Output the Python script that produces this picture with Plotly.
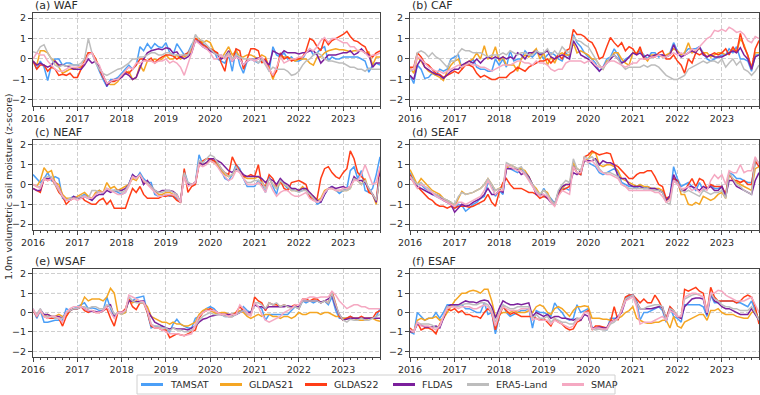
import pandas as pd
import plotly.graph_objects as go

# ---------------- data (monthly z-scores, Jan 2016 - Nov 2023) ----------------
dates = pd.date_range("2016-01-01", "2023-11-01", freq="MS")

products = ["TAMSAT", "GLDAS21", "GLDAS22", "FLDAS", "ERA5-Land", "SMAP"]
colors = ["#4b9ff7", "#f5a623", "#ff3d17", "#7b1f9c", "#bdbdbd", "#f5a9c2"]
panel_titles = ["(a) WAF", "(b) CAF", "(c) NEAF", "(d) SEAF", "(e) WSAF", "(f) ESAF"]
year_ticks = ["2016", "2017", "2018", "2019", "2020", "2021", "2022", "2023"]
y_ticks = [-2, -1, 0, 1, 2]
y_ticklabels = ["\u22122", "\u22121", "0", "1", "2"]

# ---- (a) WAF ----
WAF_TAMSAT = [-0.1, -0.5, -0.1, -0.4, -1.05, -0.3, 0.0, 0.0, -0.3, -0.2, -0.2, -0.3,
              -0.3, -0.4, -0.2, 0.3, 0.3, -0.2, -0.6, -1.0, -1.35, -1.0, -1.0, -0.9,
              -0.7, -0.5, -0.3, -0.5, -0.3, 0.6, 0.4, 0.75, 0.5, 0.75, 0.6, 0.55,
              0.8, 0.3, 0.2, 0.75, 0.5, 0.2, 0.3, 0.7, 0.95, 0.9, 0.75, 0.6,
              0.5, 0.4, 0.0, -0.1, -0.2, 0.2, -0.6, 0.5, -0.3, -0.7, -0.1, 0.0,
              -0.1, -0.2, 0.0, -0.1, -0.6, 0.6, 0.2, 0.1, 0.3, 0.0, 0.1, -0.1,
              -0.1, 0.0, 0.3, 0.5, 0.2, 0.3, 0.5, 0.6, -0.1, 0.1, 0.0, 0.0,
              0.1, 0.1, 0.1, 0.1, 0.1, 0.0, -0.1, -0.65, -0.3, -0.2, -0.3]
WAF_GLDAS21 = [-0.1, -0.3, 0.4, 0.4, 0.3, 0.0, -0.1, -0.4, -0.7, -0.6, -0.5, -0.5,
               -0.4, -0.4, -0.1, 0.3, 0.3, 0.0, -0.4, -0.8, -1.2, -1.25, -1.25, -1.1,
               -0.8, -0.7, -0.6, -1.0, -0.9, -0.3, -0.6, -0.1, -0.1, 0.0, -0.1, 0.0,
               0.2, 0.0, 0.0, 0.2, 0.0, 0.1, 0.2, 0.4, 1.0, 1.0, 0.8, 0.9,
               0.8, 0.4, 0.2, 0.0, 0.3, 0.6, 0.2, 0.4, 0.1, 0.1, 0.2, 0.2,
               0.1, 0.0, 0.2, 0.1, -0.4, -1.0, -0.5, 0.1, 0.1, 0.1, 0.0, -0.1,
               0.0, 0.0, 0.0, -0.2, -0.3, 0.1, 0.1, 0.3, 0.4, 0.45, 0.5, 0.45,
               0.45, 0.4, 0.35, 0.4, 0.4, 0.45, 0.3, 0.35, -0.3, 0.1, 0.1]
WAF_GLDAS22 = [-0.1, -0.5, -0.3, -0.3, -0.6, -0.4, -0.5, -0.8, -0.75, -0.8, -0.7, -0.9,
               -0.9, -0.5, -0.1, 0.3, 0.3, 0.0, -0.5, -0.9, -1.2, -1.1, -1.1, -1.0,
               -0.85, -0.6, -0.7, -0.5, -0.3, 0.0, 0.0, -0.1, 0.05, -0.2, 0.0, 0.1,
               0.2, 0.2, 0.15, 0.0, 0.1, 0.2, 0.3, 0.5, 1.0, 0.9, 0.7, 0.6,
               0.5, 0.4, 0.3, -0.2, -0.6, 0.4, -0.1, 0.5, 0.4, -0.5, 0.0, 0.5,
               0.5, 0.4, -0.2, 0.0, -0.5, -0.85, -0.6, 0.3, 0.0, 0.1, -0.1, 0.0,
               0.0, 0.1, 0.4, 1.0, 0.9, 0.6, 0.4, 1.0, 0.7, 0.9, 1.0, 1.1,
               1.2, 1.35, 1.1, 0.9, 0.85, 0.7, 0.6, 0.2, 0.1, 0.3, 0.4]
WAF_FLDAS = [-0.1, -0.3, -0.2, -0.3, -0.4, -0.3, -0.1, -0.3, -0.3, -0.35, -0.4, -0.5,
             -0.5, -0.5, -0.3, 0.0, -0.2, -0.1, -0.4, -0.8, -1.3, -1.1, -1.0, -1.0,
             -0.9, -0.7, -0.8, -1.0, -0.9, -0.4, 0.0, 0.3, 0.4, 0.45, 0.5, 0.45,
             0.55, 0.5, 0.3, 0.35, 0.1, 0.0, 0.1, 0.3, 0.9, 0.8, 0.6, 0.5,
             0.4, 0.3, 0.2, 0.0, 0.1, 0.4, -0.1, 0.1, 0.0, -0.3, -0.1, 0.0,
             0.0, 0.05, 0.0, -0.1, -0.3, 0.4, 0.3, 0.2, 0.4, 0.3, 0.3, 0.3,
             0.25, 0.3, 0.3, 0.4, 0.4, 0.2, -0.2, 0.0, 0.2, 0.2, 0.2, 0.25,
             0.3, 0.3, 0.4, 0.2, 0.3, 0.5, 0.3, 0.2, -0.4, -0.2, -0.2]
WAF_ERA5 = [0.35, 0.3, 0.6, 0.7, 0.3, 0.0, -0.3, -0.4, -0.3, -0.35, -0.3, -0.3,
            -0.3, -0.2, 0.0, 1.0, 0.3, -0.2, -0.5, -0.7, -0.8, -0.7, -0.6, -0.5,
            -0.45, -0.3, -0.2, 0.0, 0.0, 0.1, 0.1, 0.2, 0.3, 0.3, 0.2, 0.2,
            0.3, 0.3, 0.2, 0.2, 0.2, 0.2, 0.2, 0.6, 1.2, 0.95, 0.9, 0.7,
            0.5, 0.3, 0.2, 0.2, 0.1, 0.3, 0.0, 0.2, 0.1, 0.0, 0.0, 0.0,
            0.0, -0.2, 0.0, -0.3, -0.6, -0.4, -0.5, -0.5, -0.5, -0.6, -0.8, -0.75,
            -0.6, -0.3, -0.1, 0.0, 0.2, 0.3, 0.2, 0.0, -0.1, -0.1, -0.15, -0.2,
            -0.2, -0.3, -0.4, -0.4, -0.5, -0.5, -0.6, -0.45, -0.5, -0.5, -0.5]
WAF_SMAP = [0.0, 0.3, 0.2, 0.2, -0.1, -0.3, -0.5, -0.6, -0.6, -0.5, -0.4, -0.4,
            -0.4, -0.3, -0.2, 0.2, 0.3, -0.1, -0.3, -0.8, -1.2, -1.1, -1.0, -1.0,
            -0.8, -0.6, -0.4, -0.5, -0.2, -0.2, -0.1, -0.1, -0.1, -0.2, -0.1, -0.1,
            0.0, -0.2, -0.1, -0.2, -0.4, -0.8, -0.3, 0.3, 0.9, 0.75, 0.6, 0.5,
            0.3, 0.0, 0.0, 0.2, 0.0, 0.2, -0.1, 0.1, 0.0, -0.3, -0.1, 0.0,
            -0.1, 0.0, 0.1, -0.2, -0.5, -0.8, -0.4, 0.1, -0.2, -0.1, 0.0, 0.0,
            0.1, 0.1, 0.3, 0.5, 0.4, 0.6, 0.9, 1.05, 0.8, 1.0, 1.0, 0.9,
            0.8, 0.8, 0.6, 0.6, 0.4, 0.4, 0.3, 0.1, 0.2, 0.2, 0.3]

# ---- (b) CAF ----
CAF_TAMSAT = [-0.8, -1.2, -0.3, -0.5, -0.95, -0.9, -0.7, -0.8, -0.5, -0.6, -0.5, 0.0,
              0.1, 0.2, -0.5, -0.2, -0.3, 0.0, -0.4, -0.5, -0.5, -0.6, -0.6, 0.0,
              -0.3, 0.0, -0.4, 0.4, -0.1, 0.0, 0.0, 0.4, 0.2, 0.1, 0.3, 0.3,
              0.0, 0.2, 0.3, 0.2, 0.0, -0.1, 0.3, 0.1, 1.2, 0.8, 0.6, 0.3,
              0.1, 0.0, -0.2, -0.6, -0.4, 0.0, 0.1, 0.5, 0.2, -0.2, 0.0, 0.1,
              0.3, 0.3, 0.4, 0.2, 0.0, 0.3, 0.3, 0.1, 0.2, 0.1, 0.3, 0.8,
              0.4, 0.2, 0.3, 0.5, 0.5, 0.5, 0.6, 0.3, 0.0, -0.1, 0.0, 0.1,
              0.2, 0.2, 0.5, 0.3, 0.6, 0.0, 0.0, -0.1, -0.6, 0.2, 0.2]
CAF_GLDAS21 = [-0.4, -0.7, 0.1, -0.1, -0.4, -0.6, -0.7, -0.8, -0.9, -1.05, -0.6, -0.3,
               -0.1, 0.0, -0.5, -0.2, -0.1, 0.0, 0.3, 0.0, 0.65, 0.0, 0.1, 0.6,
               -0.1, 0.1, -0.3, -0.3, -0.3, -0.6, 0.0, 0.2, 0.1, 0.3, 0.5, 0.0,
               0.3, -0.3, 0.1, -0.2, 0.2, 0.3, 0.2, 0.2, 0.8, 0.3, 0.4, 0.3,
               0.2, 0.0, 0.0, -0.3, -0.5, -0.1, 0.0, 0.3, 0.3, 0.0, -0.2, -0.3,
               0.3, 0.3, 0.5, 0.1, -0.1, 0.2, 0.2, 0.2, 0.1, 0.2, 0.3, 0.5,
               0.4, 0.2, 0.3, 0.8, 0.3, 0.4, 0.5, 0.3, 0.3, 0.1, 0.2, 0.3,
               0.3, 0.2, 0.3, 0.5, 0.3, 1.0, 0.7, 0.2, -0.4, 0.3, 0.3]
CAF_GLDAS22 = [-0.4, -0.4, 0.3, 0.1, -0.2, -0.3, -0.5, -0.7, -0.75, -0.9, -0.8, -0.7,
               -0.6, -0.7, -0.5, -0.3, -0.3, -0.4, -0.7, -0.9, -0.8, -0.9, -1.0, -1.0,
               -0.9, -0.9, -0.9, -0.7, -0.6, -0.4, -0.5, -0.6, -0.4, -0.3, -0.2, -0.1,
               -0.1, 0.0, -0.2, 0.0, 0.2, 0.0, 0.4, 0.5, 1.45, 1.2, 1.2, 1.1,
               0.9, 0.8, 0.5, 0.0, 0.1, 0.6, 1.05, 0.8, 0.6, 0.8, 0.4, 0.6,
               0.5, 0.2, 0.6, 0.0, 0.0, 0.1, 0.1, 0.3, 0.4, 0.0, 0.0, 0.2,
               -0.1, -0.3, -0.7, 0.0, -0.2, 0.3, 0.2, 0.3, 0.1, 0.2, 0.3, 0.2,
               0.3, 0.5, 0.2, 0.6, 0.3, 1.25, 0.6, 0.2, -0.5, 0.5, 0.9]
CAF_FLDAS = [-0.8, -1.0, -0.3, 0.0, -0.4, -0.55, -0.65, -0.75, -0.8, -0.95, -0.75, -0.6,
             -0.5, -0.5, -0.3, -0.2, -0.1, -0.2, 0.0, -0.2, 0.0, 0.1, 0.0, 0.1,
             0.0, 0.1, 0.0, 0.1, 0.0, 0.3, 0.2, 0.0, 0.3, 0.3, 0.4, 0.2,
             0.3, 0.4, 0.1, 0.0, 0.1, 0.2, 0.1, 0.0, 0.9, 0.6, 0.2, 0.1,
             0.0, -0.2, -0.4, -0.6, -0.4, -0.2, 0.0, 0.2, 0.0, -0.2, -0.1, 0.1,
             0.3, 0.2, 0.3, 0.1, 0.2, 0.1, 0.2, 0.2, 0.2, 0.1, 0.2, 0.7,
             0.3, 0.1, 0.2, 0.3, 0.4, 0.3, 0.6, 0.2, 0.1, 0.2, 0.1, 0.1,
             0.1, 0.2, 0.3, 0.4, 0.3, 0.55, 0.2, 0.0, -0.5, 0.1, 0.2]
CAF_ERA5 = [-0.6, -0.5, 0.3, 0.4, 0.3, 0.1, 0.3, 0.1, 0.0, -0.2, -0.4, -0.1,
            -0.1, 0.3, 0.5, 0.4, 0.4, 0.3, 0.3, 0.3, 0.2, 0.1, 0.2, 0.2,
            0.2, 0.3, 0.2, 0.4, 0.3, 0.2, 0.3, 0.3, 0.2, 0.2, 0.4, 0.3,
            0.3, 0.5, 0.2, 0.4, 0.2, 0.6, 0.4, 0.3, 1.1, 0.9, 0.85, 0.7,
            0.6, 0.3, 0.0, -0.3, -0.5, -0.2, 0.1, 0.2, 0.0, -0.3, -0.5, -0.4,
            -0.4, -0.4, -0.4, -0.3, -0.4, -0.3, -0.3, -0.4, -0.6, -0.8, -0.9, -1.0,
            -1.0, -0.9, -0.8, -0.5, -0.4, -0.3, -0.2, -0.1, -0.2, -0.1, -0.1, -0.2,
            0.0, -0.4, -0.2, 0.0, -0.3, -0.1, -0.5, -0.6, -0.8, -0.6, -0.3]
CAF_SMAP = [-0.5, -0.5, 0.1, 0.0, -0.2, -0.4, -0.5, -0.6, -0.6, -0.7, -0.6, -0.5,
            -0.4, -0.3, -0.4, -0.3, -0.2, -0.3, -0.3, -0.4, -0.4, -0.5, -0.6, -0.5,
            -0.4, -0.3, -0.3, -0.3, -0.2, -0.1, -0.1, -0.2, -0.2, -0.3, -0.1, -0.2,
            -0.2, -0.3, -0.5, -0.6, -0.5, -0.5, -0.2, -0.1, -0.1, -0.1, -0.1, -0.2,
            -0.1, -0.1, -0.3, -0.4, -0.4, -0.2, -0.1, -0.1, -0.2, -0.3, -0.4, -0.3,
            -0.2, -0.2, 0.0, 0.0, 0.0, 0.1, 0.1, 0.2, 0.1, 0.1, 0.2, 0.3,
            0.2, 0.3, 0.2, 0.3, 0.5, 0.4, 0.6, 0.8, 1.0, 1.1, 1.4, 1.35,
            1.45, 1.35, 1.55, 1.45, 1.3, 1.35, 1.2, 0.9, 0.8, 1.1, 1.0]

# ---- (c) NEAF ----
NEAF_TAMSAT = [0.5, 0.3, 0.1, 0.3, 0.6, 0.2, 0.4, 0.3, -0.7, -0.8, -0.7, -0.6,
               -0.7, -0.6, -0.5, -0.6, -0.8, -0.5, -0.3, -0.5, -0.2, -0.3, -0.3, -0.4,
               -0.5, -0.4, 0.0, 0.5, 0.3, 0.6, 0.3, 0.1, 0.1, -0.5, -0.6, -0.6,
               -0.5, -0.6, -0.6, -0.7, -0.9, 0.7, 0.1, 0.0, 0.1, 1.5, 1.0, 1.1,
               1.3, 1.2, 1.0, 0.7, 0.3, 0.2, 0.5, 1.0, 0.8, 0.3, -0.1, -0.1,
               -0.1, 0.2, 0.0, -0.4, 0.4, -0.1, -0.5, 0.3, 0.0, -0.2, -0.2, -0.3,
               -0.35, -0.3, -0.2, -0.6, -0.6, -1.0, -0.9, -0.5, -0.2, -0.1, -0.3, -0.45,
               -0.3, -0.2, 0.7, 0.9, 0.3, 0.7, -0.3, -0.4, -0.2, 0.5, 1.4]
NEAF_GLDAS21 = [0.0, -0.1, 0.2, 0.85, 0.6, 0.7, 0.1, 0.0, -0.5, -0.7, -0.7, -0.7,
                -0.6, -0.5, -0.4, -0.6, -0.7, -0.4, -0.3, -0.4, 0.1, -0.2, -0.1, -0.3,
                -0.2, -0.1, 0.0, 0.3, 0.2, 0.5, 0.1, 0.1, -0.1, -0.3, -0.5, -0.5,
                -0.4, -0.4, -0.5, -0.6, -0.9, 0.5, 0.0, 0.0, 0.1, 1.1, 1.0, 1.1,
                1.2, 1.1, 1.0, 0.7, 0.5, 0.4, 0.5, 0.8, 0.7, 0.4, 0.3, 0.3,
                0.3, 0.4, 0.2, -0.2, 0.3, 0.0, -0.2, 0.1, 0.0, -0.1, -0.3, -0.3,
                -0.3, -0.1, -0.3, -0.5, -0.6, -0.8, -0.7, -0.3, -0.2, -0.2, -0.3, -0.3,
                -0.3, -0.3, -0.2, 0.3, 0.2, 0.0, 0.3, -0.3, -0.5, -1.0, 0.6]
NEAF_GLDAS22 = [-0.2, -0.3, -0.4, 0.3, 0.2, 0.3, 0.0, -0.4, -0.6, -1.0, -0.8, -0.7,
                -0.7, -0.6, -0.8, -0.9, -1.0, -1.0, -0.8, -0.7, -1.0, -0.8, -1.2, -1.2,
                -1.2, -1.2, -0.7, -0.2, -0.4, -0.1, -0.5, -0.7, -0.7, -0.7, -0.7, -0.6,
                -0.6, -0.55, -0.6, -0.8, -0.9, 0.8, -0.4, -0.1, 0.0, 1.0, 1.2, 1.3,
                1.3, 1.2, 1.1, 0.8, 0.6, 0.5, 1.4, 1.0, 0.7, 0.4, 0.4, 0.5,
                0.4, 1.0, 0.0, -0.1, 0.5, 0.3, -0.1, 0.2, -0.2, -0.3, 0.1, 0.15,
                0.2, 0.1, 0.0, -0.6, -0.8, -0.7, 0.3, 0.8, 0.9, 0.6, 0.4, 0.3,
                0.6, 0.8, 1.7, 1.3, 0.6, 0.4, 0.2, -0.4, -0.5, -0.8, 0.9]
NEAF_FLDAS = [-0.2, -0.3, -0.3, 0.3, 0.3, 0.3, 0.1, -0.2, -0.6, -0.8, -0.8, -0.6,
              -0.7, -0.7, -0.6, -0.7, -0.8, -0.6, -0.5, -0.5, -0.3, -0.4, -0.3, -0.3,
              -0.3, -0.2, 0.0, 0.5, 0.35, 0.5, 0.0, 0.2, -0.1, -0.3, -0.4, -0.3,
              -0.3, -0.3, -0.35, -0.5, -0.9, 0.5, 0.0, 0.0, 0.1, 1.1, 1.0, 1.1,
              1.3, 1.3, 1.2, 1.1, 0.9, 0.7, 0.6, 0.8, 0.7, 0.5, 0.4, 0.4,
              0.4, 0.4, 0.3, 0.1, 0.3, 0.2, 0.0, 0.3, 0.1, 0.0, -0.2, -0.2,
              -0.3, -0.2, -0.2, -0.4, -0.6, -0.8, -0.9, -0.5, -0.2, -0.1, -0.2, -0.15,
              -0.1, -0.2, -0.1, 0.4, 0.2, 0.2, 0.1, -0.2, -0.5, -0.9, 0.6]
NEAF_ERA5 = [0.0, -0.1, -0.1, 0.3, 0.4, 0.4, 0.0, -0.3, -0.6, -0.8, -0.7, -0.7,
             -0.7, -0.6, -0.6, -0.7, -0.3, -0.3, -0.4, -0.4, -0.2, -0.3, -0.3, -0.3,
             -0.4, -0.3, 0.0, 0.4, 0.3, 0.5, 0.2, 0.1, -0.1, -0.3, -0.4, -0.4,
             -0.3, -0.3, -0.4, -0.5, -0.9, 0.6, 0.1, 0.0, 0.1, 1.2, 1.1, 1.3,
             1.5, 1.4, 1.1, 0.8, 0.6, 0.4, 0.5, 0.9, 0.6, 0.3, 0.1, 0.1,
             0.2, 0.2, 0.1, -0.2, 0.3, 0.0, -0.2, 0.2, 0.0, -0.1, -0.3, -0.3,
             -0.4, -0.3, -0.3, -0.5, -0.7, -0.9, -0.8, -0.4, -0.2, -0.2, -0.3, -0.3,
             -0.3, -0.3, -0.2, 0.3, 0.2, 0.0, 0.2, -0.2, -0.5, -0.8, 0.4]
NEAF_SMAP = [0.0, -0.1, -0.2, 0.3, 0.2, 0.3, 0.1, -0.2, -0.6, -0.8, -0.8, -0.7,
             -0.8, -0.7, -0.6, -0.7, -0.7, -0.5, -0.4, -0.4, -0.2, -0.3, -0.4, -0.5,
             -0.5, -0.4, -0.1, 0.4, 0.3, 0.5, 0.2, 0.0, -0.2, -0.4, -0.6, -0.6,
             -0.5, -0.5, -0.5, -0.6, -0.9, 0.4, -0.1, 0.0, 0.1, 1.0, 0.9, 1.0,
             1.2, 1.1, 0.9, 0.6, 0.4, 0.2, 0.3, 0.7, 0.6, 0.3, 0.0, 0.0,
             0.0, 0.1, -0.1, -0.4, 0.1, -0.3, -0.6, -0.4, -0.3, -0.3, -0.5, -0.6,
             -0.6, -0.5, -0.4, -0.7, -0.8, -0.9, -0.8, -0.4, -0.2, -0.2, -0.3, -0.3,
             -0.2, -0.2, -0.1, 0.2, 0.2, 0.5, 1.0, 0.5, 0.0, 0.1, 0.9]

# ---- (d) SEAF ----
SEAF_TAMSAT = [0.6, 0.2, 0.0, 0.0, -0.2, -0.3, -0.5, -0.6, -0.7, -0.8, -0.8, -0.9,
               -1.2, -1.0, -1.05, -1.35, -1.2, -1.0, -0.9, -0.7, -0.6, 0.1, 0.0, -0.6,
               -0.3, -0.5, 0.9, 0.8, 0.7, 0.6, 0.8, 0.5, 0.3, 0.0, -0.3, -0.6,
               -0.2, -0.5, -0.7, -0.95, -0.5, -0.2, -0.2, -0.3, 1.0, 0.6, 0.5, 1.3,
               1.1, 1.0, 0.9, 0.6, 0.5, 0.6, 0.7, 0.8, 0.6, 0.1, 0.0, -0.1,
               -0.1, -0.2, 0.0, -0.2, -0.1, -0.2, -0.2, -0.3, -0.4, -0.7, -0.6, 0.9,
               0.3, -0.1, 0.0, 0.1, -0.1, -0.3, 0.1, -0.3, -0.2, 0.0, -0.2, -0.2,
               -0.1, -0.6, 0.6, 0.5, 0.3, 0.3, 0.2, 0.1, 0.1, 1.1, 1.0]
SEAF_GLDAS21 = [0.75, 0.4, 0.0, 0.3, 0.1, -0.1, -0.3, -0.4, -0.5, -0.7, -0.8, -0.9,
                -1.1, -0.7, -0.35, -0.5, -0.45, -0.4, -0.3, -0.2, 0.0, 0.3, 0.0, -0.3,
                -0.2, -0.1, 0.8, 1.0, 0.9, 0.8, 0.8, 0.7, 0.4, 0.0, -0.2, -0.5,
                -0.3, -0.4, -0.8, -1.0, -0.4, -0.2, 0.0, 0.0, 1.1, 0.8, 0.7, 1.2,
                1.3, 1.6, 1.6, 1.0, 0.9, 1.0, 1.0, 0.9, 0.7, 0.3, 0.2, 0.1,
                0.0, -0.1, 0.0, -0.1, -0.1, -0.2, -0.2, -0.2, -0.3, -0.8, -0.7, 0.3,
                0.2, -0.5, -0.5, -1.0, -1.05, -0.9, -1.0, -0.6, -0.7, -0.8, -0.7, -0.5,
                -0.4, -0.7, 0.5, 0.3, 0.1, 0.0, -0.1, -0.2, -0.3, 0.8, 0.9]
SEAF_GLDAS22 = [0.5, 0.1, -0.1, -0.3, -0.5, -0.7, -0.8, -1.0, -1.1, -1.1, -1.2, -1.1,
                -1.2, -1.1, -1.1, -1.1, -1.15, -1.1, -1.0, -0.9, -0.8, -0.5, -0.9, -1.1,
                -0.4, 0.1, 0.3, 0.0, -0.2, -0.2, -0.2, -0.3, -0.4, -0.4, -0.5, -0.7,
                -0.6, -0.7, -0.8, -1.05, -0.5, -0.3, -0.2, -0.1, 0.9, 0.6, 0.5, 1.4,
                1.5, 1.7, 1.6, 1.5, 1.55, 1.6, 1.55, 1.0, 0.9, 0.7, 0.5, 0.3,
                0.3, 0.5, 0.6, 0.6, 0.7, 0.7, 0.4, 0.0, -0.1, -0.7, -0.6, 0.3,
                0.2, -0.3, -0.3, 0.0, 0.3, -0.1, 0.3, 0.2, -0.2, 0.0, -0.1, -0.1,
                -0.1, -0.5, 0.6, 0.2, 0.2, 0.1, 0.2, 0.0, 0.0, 1.2, 0.9]
SEAF_FLDAS = [0.3, 0.2, -0.1, -0.2, -0.3, -0.4, -0.5, -0.5, -0.6, -0.8, -0.9, -1.0,
              -1.4, -1.2, -1.0, -1.1, -1.05, -0.9, -0.8, -0.7, -0.5, -0.2, -0.5, -0.5,
              -0.3, -0.4, 0.8, 0.8, 0.8, 0.75, 0.5, 0.6, 0.4, 0.0, -0.5, -0.5,
              -0.5, -0.7, -0.9, -1.0, -0.4, -0.1, 0.0, 0.0, 0.6, 0.5, 0.7, 1.2,
              1.2, 1.2, 1.3, 1.0, 1.2, 1.1, 1.1, 1.0, 0.4, 0.3, 0.3, 0.0,
              -0.1, -0.1, -0.1, -0.2, -0.2, -0.2, -0.2, -0.3, -0.4, -0.8, -0.6, 0.5,
              0.1, -0.3, -0.3, -0.1, -0.1, -0.2, -0.3, -0.1, -0.2, -0.1, -0.3, -0.3,
              -0.1, -0.6, 0.2, 0.2, -0.1, -0.2, -0.3, -0.4, -0.5, 0.2, 0.6]
SEAF_ERA5 = [0.4, 0.2, 0.0, 0.1, -0.1, -0.2, -0.4, -0.5, -0.6, -0.7, -0.8, -0.9,
             -1.0, -0.6, -0.4, -0.5, -0.45, -0.4, -0.3, -0.2, 0.0, 0.3, 0.0, -0.3,
             -0.2, -0.2, 1.1, 1.0, 0.9, 0.8, 0.9, 0.6, 0.3, 0.0, -0.3, -0.5,
             -0.3, -0.5, -0.8, -1.0, -0.3, 0.0, 0.2, 0.1, 1.3, 0.8, 0.7, 1.4,
             1.3, 1.4, 1.2, 0.8, 0.6, 0.6, 0.6, 0.5, 0.4, 0.0, -0.1, -0.2,
             -0.2, -0.2, -0.2, -0.2, -0.2, -0.3, -0.3, -0.3, -0.4, -0.9, -1.0, 0.2,
             0.1, -0.3, -0.4, -0.3, -0.4, -0.5, -0.6, -0.3, -0.4, -0.5, -0.4, -0.4,
             -0.3, -0.7, 0.6, 0.3, 0.0, -0.1, -0.3, -0.4, -0.5, 1.3, 1.1]
SEAF_SMAP = [0.4, 0.1, -0.2, 0.0, -0.1, -0.3, -0.4, -0.6, -0.7, -0.8, -0.9, -1.0,
             -1.1, -0.9, -0.9, -1.0, -0.9, -0.8, -0.7, -0.6, -0.3, 0.2, -0.2, -0.5,
             -0.3, -0.3, 1.0, 0.9, 0.8, 0.7, 0.7, 0.5, 0.2, -0.1, -0.4, -0.6,
             -0.5, -0.6, -0.9, -1.1, -0.6, -0.3, -0.4, -0.5, 0.9, 0.6, 0.6, 1.3,
             1.1, 1.2, 1.0, 0.7, 0.6, 0.5, 0.5, 0.4, 0.3, 0.0, -0.1, -0.3,
             -0.3, -0.3, -0.3, -0.3, -0.3, -0.3, -0.4, -0.4, -0.6, -0.9, -0.8, 0.2,
             0.0, -0.2, -0.2, -0.1, -0.3, -0.2, -0.4, -0.2, -0.3, 0.2, 0.5, 0.3,
             0.5, 0.0, 0.7, 0.6, 0.6, 1.0, 0.6, 0.7, 0.7, 1.4, 1.0]

# ---- (e) WSAF ----
WSAF_TAMSAT = [0.2, -0.3, 0.1, -0.5, -0.5, -0.45, -0.4, -0.4, -0.4, 0.2, 0.1, 0.2,
               0.3, 0.4, 0.5, 0.2, 0.25, 0.2, 0.1, 0.1, 0.8, 0.2, -0.2, 0.0,
               0.0, 0.0, 0.8, 0.6, 0.75, 0.8, 0.85, 0.0, -0.8, -0.7, -0.75, -0.7,
               -0.8, -1.0, -0.6, -0.35, -0.6, -0.7, -0.8, -0.8, -0.3, -0.2, 0.0, 0.2,
               0.3, 0.2, 0.0, -0.1, -0.2, -0.2, -0.2, -0.1, 0.0, 0.3, 0.1, 0.0,
               0.5, 0.3, 0.2, -0.4, -0.1, -0.1, -0.1, -0.1, -0.1, -0.1, 0.1, 0.3,
               0.2, 0.6, 0.5, 0.6, 0.5, 0.6, 0.5, 0.6, 0.4, 0.8, 0.1, -0.3,
               -0.3, -0.3, -0.2, -0.3, -0.3, -0.3, -0.3, -0.3, -0.3, -0.2, 0.2]
WSAF_GLDAS21 = [0.1, -0.1, 0.1, -0.2, -0.1, -0.2, -0.2, -0.1, -0.2, -0.2, 0.1, 0.2,
                0.2, 0.4, 0.8, 0.6, 0.7, 0.7, 0.7, 0.6, 0.8, 1.25, 1.0, 0.0,
                -0.1, 0.0, 0.7, 0.5, 0.6, 0.5, 0.5, 0.3, -0.2, -0.3, -0.4, -0.5,
                -0.5, -0.6, -0.5, -0.6, -0.6, -0.7, -0.7, -0.6, -0.5, -0.1, 0.1, 0.2,
                0.1, 0.0, -0.1, 0.0, 0.0, -0.1, -0.1, 0.0, 0.1, 0.0, -0.2, -0.3,
                -0.2, -0.1, -0.2, -0.1, -0.1, -0.2, -0.2, -0.3, -0.2, -0.2, -0.3, -0.2,
                0.0, -0.1, -0.1, 0.0, 0.0, 0.0, -0.1, 0.0, 0.0, -0.1, -0.2, -0.2,
                -0.3, -0.3, -0.3, -0.3, -0.4, -0.4, -0.4, -0.3, -0.3, -0.4, -0.45]
WSAF_GLDAS22 = [0.1, -0.2, 0.1, -0.2, -0.3, -0.3, -0.3, -0.3, -0.7, -0.2, 0.1, 0.2,
                0.2, 0.3, 0.1, 0.0, 0.1, 0.0, 0.0, 0.1, 0.2, -0.3, -0.7, 0.0,
                0.0, 0.2, 0.7, 0.3, 0.15, 0.5, 0.5, 0.0, -0.7, -0.8, -0.8, -0.9,
                -0.9, -1.3, -1.2, -1.1, -1.15, -1.2, -1.1, -1.0, -0.9, -0.3, 0.0, 0.1,
                0.2, 0.1, 0.0, -0.1, -0.1, -0.2, -0.2, 0.0, 0.3, 0.1, -0.1, -0.1,
                0.8, 0.6, 0.5, 0.1, 0.5, 0.4, 0.4, 0.3, 0.4, 0.3, 0.3, 0.4,
                0.2, 0.7, 0.7, 0.6, 0.7, 0.7, 0.5, 0.6, 0.5, 1.1, 0.4, -0.2,
                -0.4, -0.3, -0.2, -0.3, -0.3, -0.2, -0.3, -0.3, -0.3, 0.0, 0.1]
WSAF_FLDAS = [0.1, -0.1, 0.15, -0.1, -0.1, -0.2, -0.2, -0.2, -0.3, 0.0, 0.1, 0.2,
              0.2, 0.3, 0.2, 0.1, 0.05, 0.05, 0.0, 0.1, 0.3, 0.4, -0.2, 0.0,
              0.0, 0.1, 0.6, 0.6, 0.55, 0.6, 0.6, 0.1, -0.2, -0.5, -0.6, -0.7,
              -0.8, -0.85, -0.8, -0.85, -0.85, -0.85, -0.9, -0.8, -0.7, -0.5, -0.35, -0.3,
              -0.2, -0.15, -0.1, -0.1, -0.1, -0.1, -0.1, -0.1, 0.0, 0.1, 0.0, 0.0,
              0.4, 0.3, 0.3, 0.2, 0.3, 0.3, 0.3, 0.3, 0.3, 0.35, 0.3, 0.3,
              0.3, 0.6, 0.6, 0.6, 0.6, 0.6, 0.55, 0.6, 0.7, 0.9, 0.3, -0.1,
              -0.4, -0.35, -0.3, -0.3, -0.3, -0.3, -0.3, -0.3, -0.3, -0.3, -0.3]
WSAF_ERA5 = [0.1, -0.1, 0.2, -0.2, -0.2, -0.2, -0.3, -0.3, -0.3, 0.0, 0.1, 0.2,
             0.2, 0.3, 0.3, 0.2, 0.3, 0.3, 0.2, 0.2, 0.4, 0.3, -0.1, 0.0,
             -0.1, 0.1, 0.8, 0.6, 0.5, 0.5, 0.5, 0.1, -0.6, -0.7, -0.7, -0.8,
             -0.8, -0.95, -0.8, -0.9, -0.9, -1.0, -1.0, -0.9, -0.7, -0.4, -0.2, -0.1,
             0.0, -0.1, -0.1, -0.1, -0.2, -0.2, -0.2, -0.1, 0.0, 0.1, -0.1, -0.1,
             0.5, 0.5, 0.4, 0.2, 0.5, 0.4, 0.5, 0.3, 0.4, 0.3, 0.2, 0.3,
             0.2, 0.6, 0.6, 0.6, 0.6, 0.6, 0.5, 0.6, 0.5, 1.0, 0.4, -0.1,
             -0.4, -0.5, -0.35, -0.4, -0.4, -0.3, -0.4, -0.4, -0.3, -0.2, -0.1]
WSAF_SMAP = [0.2, -0.2, 0.1, -0.2, -0.3, -0.2, -0.2, -0.3, -0.5, 0.0, 0.2, 0.3,
             0.3, 0.3, 0.2, 0.1, 0.1, 0.0, 0.0, 0.1, 0.3, 0.0, -0.3, 0.0,
             0.0, 0.1, 0.9, 0.8, 0.7, 0.6, 0.55, 0.1, -0.6, -0.8, -0.8, -0.9,
             -1.0, -1.1, -1.1, -1.1, -1.15, -1.2, -1.15, -1.1, -0.6, -0.2, 0.0, 0.1,
             0.1, 0.1, 0.0, -0.1, -0.1, -0.2, -0.1, -0.1, 0.4, 0.2, 0.0, -0.2,
             0.5, 0.3, -0.1, -0.4, -0.5, -0.4, -0.3, -0.2, 0.0, 0.1, 0.2, 0.4,
             0.4, 0.7, 0.7, 0.8, 0.8, 0.75, 0.8, 0.8, 0.8, 1.1, 0.9, 0.6,
             0.4, 0.2, 0.3, 0.4, 0.4, 0.3, 0.3, 0.2, 0.2, 0.2, 0.2]

# ---- (f) ESAF ----
ESAF_TAMSAT = [-1.0, -1.1, 0.0, -0.2, -0.4, -0.3, -0.3, 0.0, -0.3, 0.0, 0.4, 0.4,
               0.4, 0.4, 0.4, 0.2, 0.2, 0.1, 0.0, 0.0, 0.5, -0.1, 0.0, -1.1,
               -0.2, 0.4, 0.0, -0.2, -0.1, 0.0, 0.1, 0.1, 0.2, -0.8, 0.1, 0.0,
               0.0, -0.1, -0.2, 0.5, 0.2, 0.0, -0.3, -0.4, -0.3, 0.4, 0.0, 0.1,
               0.2, -0.8, -0.8, -0.8, -0.85, -0.9, -0.3, -0.3, -0.3, 0.1, 0.7, 0.9,
               0.9, 0.6, -0.4, 0.0, 0.0, 0.1, 0.2, 0.3, 0.1, -0.5, 0.3, -0.2,
               -0.3, -0.5, 0.4, 0.4, 0.4, 0.4, 0.4, 0.3, -0.2, 0.9, 0.5, 0.5,
               0.6, 0.6, 0.6, 0.6, 0.5, 0.5, 0.4, 0.3, 0.6, 0.1, -0.4]
ESAF_GLDAS21 = [-1.0, -1.0, -0.4, -0.3, -0.4, -0.3, -0.3, -0.2, -0.4, -0.3, 0.0, 0.3,
                0.6, 0.8, 1.0, 1.0, 1.1, 1.15, 1.1, 1.0, 1.2, 1.2, 0.6, -0.2,
                -0.1, 0.0, 0.0, 0.0, 0.1, 0.0, 0.0, 0.0, 0.1, 0.0, 0.3, 0.4,
                0.3, 0.0, -0.1, 0.2, 0.3, 0.2, 0.0, -0.2, 0.1, 0.3, 0.3, 0.35,
                0.3, -0.3, -0.3, -0.3, -0.35, -0.35, -0.4, -0.4, -0.3, -0.2, 0.0, 0.1,
                0.3, -0.3, -0.4, -0.5, -0.55, -0.55, -0.5, -0.5, -0.4, -0.4, -0.8, -0.2,
                -0.7, -0.8, -0.5, -0.4, -0.3, -0.2, -0.1, -0.1, -0.4, 0.1, 0.1, 0.2,
                0.0, -0.1, -0.1, -0.1, -0.2, -0.25, -0.3, -0.3, 0.0, 0.1, -0.4]
ESAF_GLDAS22 = [-0.8, -1.0, -0.5, -0.9, -0.8, -0.8, -0.9, -1.1, -0.6, -0.3, 0.2, 0.1,
                0.2, 0.0, 0.1, -0.1, -0.1, -0.2, -0.2, -0.3, 0.0, 0.2, 0.0, -0.9,
                -0.2, 0.3, 0.1, -0.1, 0.0, -0.1, -0.2, -0.2, -0.2, -0.2, -0.3, -0.4,
                -0.3, -0.5, -0.7, -0.3, -0.5, -0.6, -0.8, -0.9, -0.85, -0.5, -0.4, 0.0,
                0.1, -0.9, -0.7, -0.7, -0.75, -0.8, -0.5, 0.3, -0.4, 0.2, 0.8, 0.9,
                0.9, 0.7, 0.5, 0.7, 0.5, 0.5, 0.9, 0.6, 0.2, -0.3, 0.3, 0.1,
                -0.2, -0.3, 1.2, 1.1, 1.2, 1.3, 1.1, 1.0, 0.0, 1.3, 0.8, 0.6,
                0.6, 0.6, 0.6, 0.6, 0.5, 0.6, 0.8, 0.9, 0.8, 0.3, -0.6]
ESAF_FLDAS = [-1.0, -1.0, -0.6, -0.65, -0.75, -0.75, -0.75, -0.7, -0.8, -0.3, 0.3, 0.4,
              0.4, 0.4, 0.5, 0.6, 0.55, 0.55, 0.5, 0.6, 0.65, 0.6, 0.3, -0.3,
              0.2, 0.6, 0.5, 0.4, 0.4, 0.45, 0.4, 0.45, 0.5, -0.2, 0.0, -0.1,
              -0.2, -0.1, -0.3, -0.2, -0.2, -0.3, -0.3, -0.35, -0.4, -0.3, -0.4, -0.1,
              -0.2, -0.8, -0.8, -0.75, -0.8, -0.8, -0.5, -0.4, -0.2, 0.0, 0.6, 0.8,
              0.9, 0.5, 0.2, 0.2, 0.2, 0.2, 0.25, 0.3, 0.3, -0.4, 0.2, 0.0,
              -0.2, -0.3, 0.3, 0.5, 0.7, 0.75, 0.75, 0.7, -0.1, 1.0, 0.6, 0.5,
              0.3, 0.2, 0.2, 0.1, 0.0, -0.1, -0.1, -0.1, 0.2, -0.1, -0.4]
ESAF_ERA5 = [-0.9, -1.0, -0.5, -0.6, -0.6, -0.6, -0.65, -0.8, -0.7, -0.2, 0.3, 0.3,
             0.3, 0.3, 0.4, 0.45, 0.45, 0.4, 0.4, 0.5, 0.5, 0.4, 0.1, -0.5,
             0.0, 0.4, 0.3, 0.2, 0.2, 0.3, 0.3, 0.3, 0.3, -0.3, -0.1, -0.3,
             -0.3, -0.2, -0.5, -0.3, -0.4, -0.5, -0.5, -0.6, -0.6, -0.3, -0.3, 0.0,
             0.0, -0.85, -0.9, -0.85, -0.9, -0.9, -0.6, -0.5, -0.3, 0.2, 0.7, 0.8,
             0.9, 0.5, 0.2, 0.2, 0.3, 0.35, 0.4, 0.4, 0.3, -0.4, 0.2, 0.1,
             -0.2, -0.2, 0.7, 0.8, 0.9, 0.95, 0.9, 0.8, 0.0, 1.0, 0.7, 0.6,
             0.4, 0.3, 0.3, 0.2, 0.2, 0.1, 0.1, 0.1, 0.3, 0.0, -0.4]
ESAF_SMAP = [-0.9, -1.0, -0.5, -0.7, -0.7, -0.7, -0.8, -0.9, -0.7, -0.2, 0.2, 0.3,
             0.3, 0.2, 0.3, 0.3, 0.3, 0.2, 0.2, 0.3, 0.4, 0.3, 0.0, -0.7,
             -0.1, 0.3, 0.2, 0.1, 0.1, 0.1, 0.2, 0.2, 0.2, -0.4, -0.3, -0.4,
             -0.4, -0.4, -0.6, -0.4, -0.5, -0.6, -0.7, -0.8, -0.7, -0.4, -0.3, 0.0,
             0.0, -0.85, -0.8, -0.8, -0.85, -0.85, -0.5, -0.4, -0.3, 0.1, 0.6, 0.7,
             0.8, 0.3, -0.6, -0.5, -0.5, -0.5, -0.4, -0.3, -0.2, -0.4, 0.1, 0.0,
             -0.2, -0.2, 0.8, 0.9, 1.0, 1.0, 0.9, 0.8, 0.0, 1.0, 1.0, 1.15,
             1.1, 0.9, 0.8, 0.7, 0.6, 0.6, 0.6, 0.7, 0.8, 0.4, 0.0]

panels = [
    [WAF_TAMSAT, WAF_GLDAS21, WAF_GLDAS22, WAF_FLDAS, WAF_ERA5, WAF_SMAP],
    [CAF_TAMSAT, CAF_GLDAS21, CAF_GLDAS22, CAF_FLDAS, CAF_ERA5, CAF_SMAP],
    [NEAF_TAMSAT, NEAF_GLDAS21, NEAF_GLDAS22, NEAF_FLDAS, NEAF_ERA5, NEAF_SMAP],
    [SEAF_TAMSAT, SEAF_GLDAS21, SEAF_GLDAS22, SEAF_FLDAS, SEAF_ERA5, SEAF_SMAP],
    [WSAF_TAMSAT, WSAF_GLDAS21, WSAF_GLDAS22, WSAF_FLDAS, WSAF_ERA5, WSAF_SMAP],
    [ESAF_TAMSAT, ESAF_GLDAS21, ESAF_GLDAS22, ESAF_FLDAS, ESAF_ERA5, ESAF_SMAP],
]

# ---------------- layout geometry (pixels) ----------------
W, H = 760, 395
col_px = [(33, 380), (410, 759)]
row_px = [(13, 106), (140, 230), (269, 357)]
# legend box and entry positions (pixels)
leg_box = (137, 375, 615, 394)
leg_line_x = [141, 220, 305, 393, 467, 562]
leg_line_len = 22

FONT = "DejaVu Sans"
TXT = "#2b2b2b"
AX = "#444444"
GRID = "#cfcfcf"


def px(x):
    return x / W


def py(y):
    return 1 - y / H


fig = go.Figure()
layout = dict(
    width=W, height=H, autosize=False,
    margin=dict(l=0, r=0, t=0, b=0, autoexpand=False),
    paper_bgcolor="white", plot_bgcolor="white",
    font=dict(family=FONT, size=9, color=TXT),
    showlegend=False,
    annotations=[],
    shapes=[],
)

for p in range(6):
    r, c = divmod(p, 2)
    idx = "" if p == 0 else str(p + 1)
    x0, x1 = col_px[c]
    ytop, ybot = row_px[r]
    layout["xaxis" + idx] = dict(
        domain=[px(x0), px(x1)], anchor="y" + idx,
        range=[dates[0], dates[-1]], type="date",
        tickvals=pd.to_datetime([y + "-01-01" for y in year_ticks]), ticktext=year_ticks,
        ticks="outside", ticklen=4, tickcolor=AX, tickwidth=1,
        showgrid=True, gridcolor=GRID, griddash="4px,2px", gridwidth=0.8,
        showline=True, linecolor=AX, linewidth=1, mirror=True,
        tickfont=dict(size=9.5, color=TXT), zeroline=False,
        minor=dict(dtick="M2", tick0="2016-01-01", ticks="outside", ticklen=2,
                   tickcolor=AX, showgrid=False),
    )
    layout["yaxis" + idx] = dict(
        domain=[py(ybot), py(ytop)], anchor="x" + idx,
        range=[-2.3, 2.25], tickvals=y_ticks, ticktext=y_ticklabels,
        ticks="outside", ticklen=4, tickcolor=AX, tickwidth=1,
        showgrid=True, gridcolor=GRID, griddash="4px,2px", gridwidth=0.8,
        showline=True, linecolor=AX, linewidth=1, mirror=True,
        tickfont=dict(size=9.5, color=TXT), zeroline=False,
    )
    layout["annotations"].append(dict(
        text=panel_titles[p], x=px(x0), y=py(ytop), xref="paper", yref="paper",
        xanchor="left", yanchor="bottom", showarrow=False, yshift=-1,
        font=dict(size=11, color=TXT, family=FONT)))
    for k in range(6):
        fig.add_trace(go.Scatter(
            x=dates, y=panels[p][k], mode="lines", name=products[k],
            line=dict(color=colors[k], width=1.5),
            xaxis="x" + idx, yaxis="y" + idx,
            showlegend=False, hoverinfo="skip"))

# y-axis common label
layout["annotations"].append(dict(
    text="1.0m volumetric soil moisture (z-score)", x=px(8), y=py(187),
    xref="paper", yref="paper", textangle=-90, showarrow=False,
    xanchor="center", yanchor="middle", font=dict(size=9.5, color=TXT, family=FONT)))

# legend (drawn as box + line samples + labels)
bx0, by0, bx1, by1 = leg_box
layout["shapes"].append(dict(
    type="rect", xref="paper", yref="paper",
    x0=px(bx0), x1=px(bx1), y0=py(by1), y1=py(by0),
    line=dict(color="#d0d0d0", width=1), fillcolor="white", layer="above"))
ymid = (by0 + by1) / 2
for k in range(6):
    lx = leg_line_x[k]
    layout["shapes"].append(dict(
        type="line", xref="paper", yref="paper",
        x0=px(lx), x1=px(lx + leg_line_len), y0=py(ymid), y1=py(ymid),
        line=dict(color=colors[k], width=3), layer="above"))
    layout["annotations"].append(dict(
        text=products[k], x=px(lx + leg_line_len + 5), y=py(ymid),
        xref="paper", yref="paper", xanchor="left", yanchor="middle",
        showarrow=False, font=dict(size=9.5, color=TXT, family=FONT)))

fig.update_layout(**layout)
fig.write_html("out.html")
